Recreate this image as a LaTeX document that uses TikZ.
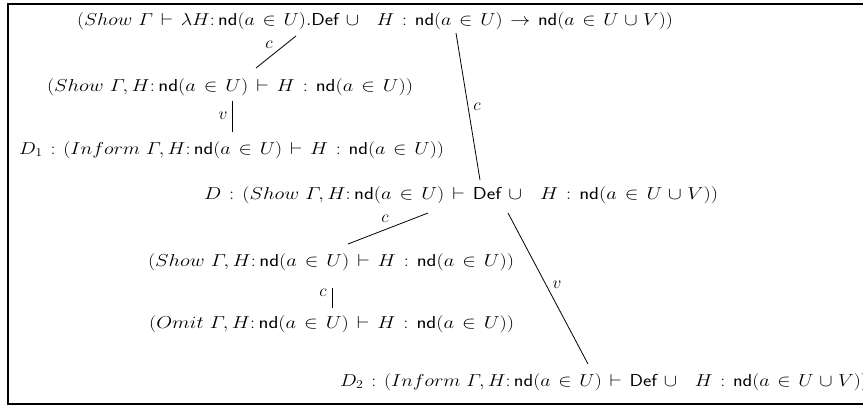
\documentclass[tikz,border=0pt]{standalone}
\usepackage{graphicx}
\usepackage{amsmath}
\newcommand{\nd}{\mathsf{nd}}
\newcommand{\Df}{\mathsf{Def}}
\newcommand{\widemath}{\thickmuskip=7mu plus 2mu\medmuskip=5mu plus 2mu}
\newcommand{\fitline}[2]{\resizebox{#1}{\height}{$\widemath #2$}}
\tikzset{
  formula/.style={anchor=base west, inner sep=0pt, outer sep=0pt, font=\fontsize{17.28}{21}\selectfont},
  rel/.style={line width=0.8pt},
  lab/.style={inner sep=1pt, font=\fontsize{17.28}{21}\selectfont},
  frame/.style={line width=1.6pt}
}
\begin{document}
\begin{tikzpicture}[x=1pt,y=-1pt]
\useasboundingbox (0,0) rectangle (863,405);
\draw[frame] (870,4) -- (8,4) -- (8,404) -- (870,404);
\node[formula] (l1) at (77,25) {\fitline{596pt}{(Show\ \varGamma\vdash\lambda H{:}\,\nd(a\in U).\Df\cup\ \ H:\nd(a\in U)\rightarrow\nd(a\in U\cup V))}};
\node[formula] (l2) at (47,91) {\fitline{366pt}{(Show\ \varGamma, H{:}\,\nd(a\in U)\vdash H:\nd(a\in U))}};
\node[formula] (l3) at (19,154) {\fitline{425pt}{D_1:(Inform\ \varGamma, H{:}\,\nd(a\in U)\vdash H:\nd(a\in U))}};
\node[formula] (l4) at (204,199) {\fitline{514pt}{D:(Show\ \varGamma, H{:}\,\nd(a\in U)\vdash \Df\cup\ \ H:\nd(a\in U\cup V))}};
\node[formula] (l5) at (148,266) {\fitline{366pt}{(Show\ \varGamma, H{:}\,\nd(a\in U)\vdash H:\nd(a\in U))}};
\node[formula] (l6) at (149,328) {\fitline{365pt}{(Omit\ \varGamma, H{:}\,\nd(a\in U)\vdash H:\nd(a\in U))}};
\node[formula] (l7) at (340,386) {\fitline{528pt}{D_2:(Inform\ \varGamma, H{:}\,\nd(a\in U)\vdash \Df\cup\ \ H:\nd(a\in U\cup V))}};
\coordinate (a1) at (296,36); \coordinate (b1) at (256,68);
\coordinate (a2) at (232,101); \coordinate (b2) at (232,132);
\coordinate (a3) at (456,33); \coordinate (b3) at (480,180);
\coordinate (a4) at (428,213); \coordinate (b4) at (348,244);
\coordinate (a5) at (332,288); \coordinate (b5) at (332,308);
\coordinate (a6) at (508,213); \coordinate (b6) at (588,364);
\draw[rel] (a1) -- (b1);
\draw[rel] (a2) -- (b2);
\draw[rel] (a3) -- (b3);
\draw[rel] (a4) -- (b4);
\draw[rel] (a5) -- (b5);
\draw[rel] (a6) -- (b6);
\node[lab] (c1) at (269,45) {$c$};
\node[lab] (v2) at (223,116) {$v$};
\node[lab] (c3) at (477,107) {$c$};
\node[lab] (c4) at (385,219) {$c$};
\node[lab] (c5) at (323,293) {$c$};
\node[lab] (v6) at (557,285) {$v$};
\end{tikzpicture}
\end{document}
